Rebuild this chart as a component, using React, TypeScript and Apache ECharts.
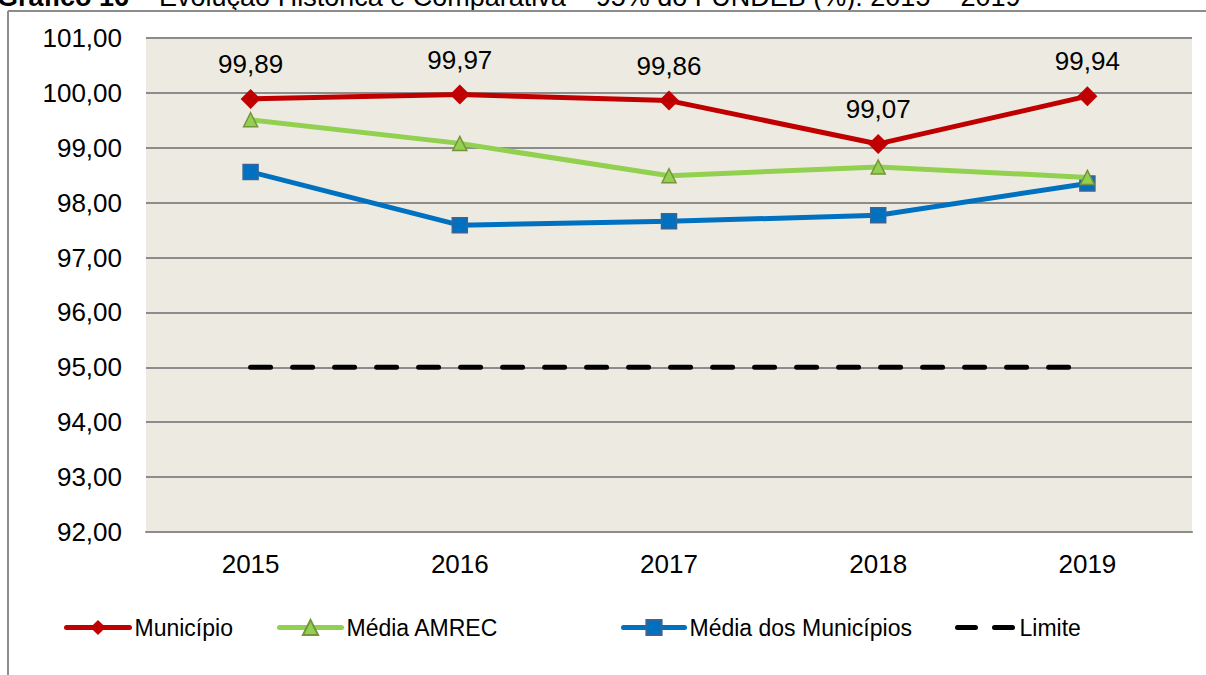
import React, { useEffect, useRef } from "react";
import * as echarts from "echarts";

const categories = ["2015", "2016", "2017", "2018", "2019"];
const municipio = [99.89, 99.97, 99.86, 99.07, 99.94];
const mediaAmrec = [99.51, 99.08, 98.49, 98.65, 98.46];
const mediaMunicipios = [98.56, 97.59, 97.66, 97.77, 98.35];
const limite = [95, 95, 95, 95, 95];
const seriesNames = ["Município", "Média AMREC", "Média dos Municípios", "Limite"];
const titleBold = "Gráfico 16";
const titleRest = " – Evolução Histórica e Comparativa – 95% do FUNDEB (%): 2015 – 2019";

const fmt = (v: number) => v.toFixed(2).replace(".", ",");
const FONT = "Liberation Sans, Arial, sans-serif";

export default function App() {
  const ref = useRef<HTMLDivElement>(null);
  useEffect(() => {
    if (!ref.current) return;
    const chart = echarts.init(ref.current, undefined, { renderer: "svg" });
    const legendLefts = [64, 277, 621, 955];
    const legendWidths = [63, 62, 61, 57];
    chart.setOption({
      animation: false,
      backgroundColor: "#ffffff",
      textStyle: { fontFamily: FONT },
      grid: { left: 146, right: 14, top: 38, bottom: 143, show: true, backgroundColor: "#EDEBE1", borderWidth: 0 },
      graphic: [
        {
          type: "text",
          x: -3,
          y: 10,
          style: {
            text: "{b|" + titleBold + "}{n|" + titleRest + "}",
            verticalAlign: "bottom",
            rich: {
              b: { fontSize: 27, fontWeight: "bold", fontFamily: FONT, fill: "#000" },
              n: { fontSize: 27, fontFamily: FONT, fill: "#000" },
            },
          },
          z: 10,
        },
        { type: "line", shape: { x1: 8, y1: 11, x2: 1206, y2: 11 }, style: { stroke: "#8c8c8c", lineWidth: 2 }, z: 10 },
        { type: "line", shape: { x1: 8, y1: 11, x2: 8, y2: 675 }, style: { stroke: "#8c8c8c", lineWidth: 2 }, z: 10 },
      ],
      legend: seriesNames.map((n, i) => ({
        data:
          i === 3
            ? [{ name: n, itemStyle: { color: "rgba(0,0,0,0)", borderWidth: 0 } }]
            : [n],
        left: legendLefts[i],
        top: 616,
        itemWidth: legendWidths[i],
        itemHeight: 19,
        itemGap: 0,
        lineStyle: i === 3 ? { width: 5, type: [18, 19], cap: "round" } : { width: 5, cap: "round" },
        textStyle: { fontSize: 23, color: "#000", fontFamily: FONT },
        padding: 0,
      })),
      xAxis: {
        type: "category",
        data: categories,
        boundaryGap: true,
        axisLine: { lineStyle: { color: "#8c8c8c", width: 2 } },
        axisTick: { show: false },
        axisLabel: { fontSize: 26, color: "#000", margin: 19, fontFamily: FONT },
      },
      yAxis: {
        type: "value",
        min: 92,
        max: 101,
        interval: 1,
        axisLine: { show: false },
        axisTick: { show: false },
        splitLine: { lineStyle: { color: "#8c8c8c", width: 2 } },
        axisLabel: { fontSize: 26, color: "#000", margin: 24, fontFamily: FONT, formatter: (v: number) => fmt(v) },
      },
      series: [
        {
          name: seriesNames[0],
          type: "line",
          data: municipio,
          symbol: "diamond",
          symbolSize: 20,
          lineStyle: { color: "#C00000", width: 5 },
          itemStyle: { color: "#C00000" },
          label: { show: true, position: "top", distance: 12, fontSize: 26, color: "#000", fontFamily: FONT, formatter: (p: any) => fmt(p.value) },
          z: 5,
        },
        {
          name: seriesNames[1],
          type: "line",
          data: mediaAmrec,
          symbol: "triangle",
          symbolSize: 14,
          lineStyle: { color: "#92D050", width: 5 },
          itemStyle: { color: "#92D050", borderColor: "#77933C", borderWidth: 1.5 },
          z: 4,
        },
        {
          name: seriesNames[2],
          type: "line",
          data: mediaMunicipios,
          symbol: "rect",
          symbolSize: 15,
          lineStyle: { color: "#0070C0", width: 5 },
          itemStyle: { color: "#0070C0", borderColor: "#3A6496", borderWidth: 1.5 },
          z: 3,
        },
        {
          name: seriesNames[3],
          type: "line",
          data: limite,
          symbol: "none",
          lineStyle: { color: "#000", width: 5, type: [20, 22], cap: "round" },
          itemStyle: { color: "#000" },
          z: 2,
        },
      ],
    });
    return () => chart.dispose();
  }, []);
  return <div ref={ref} style={{ position: "absolute", left: 0, top: 0, width: 1206, height: 675 }} />;
}
